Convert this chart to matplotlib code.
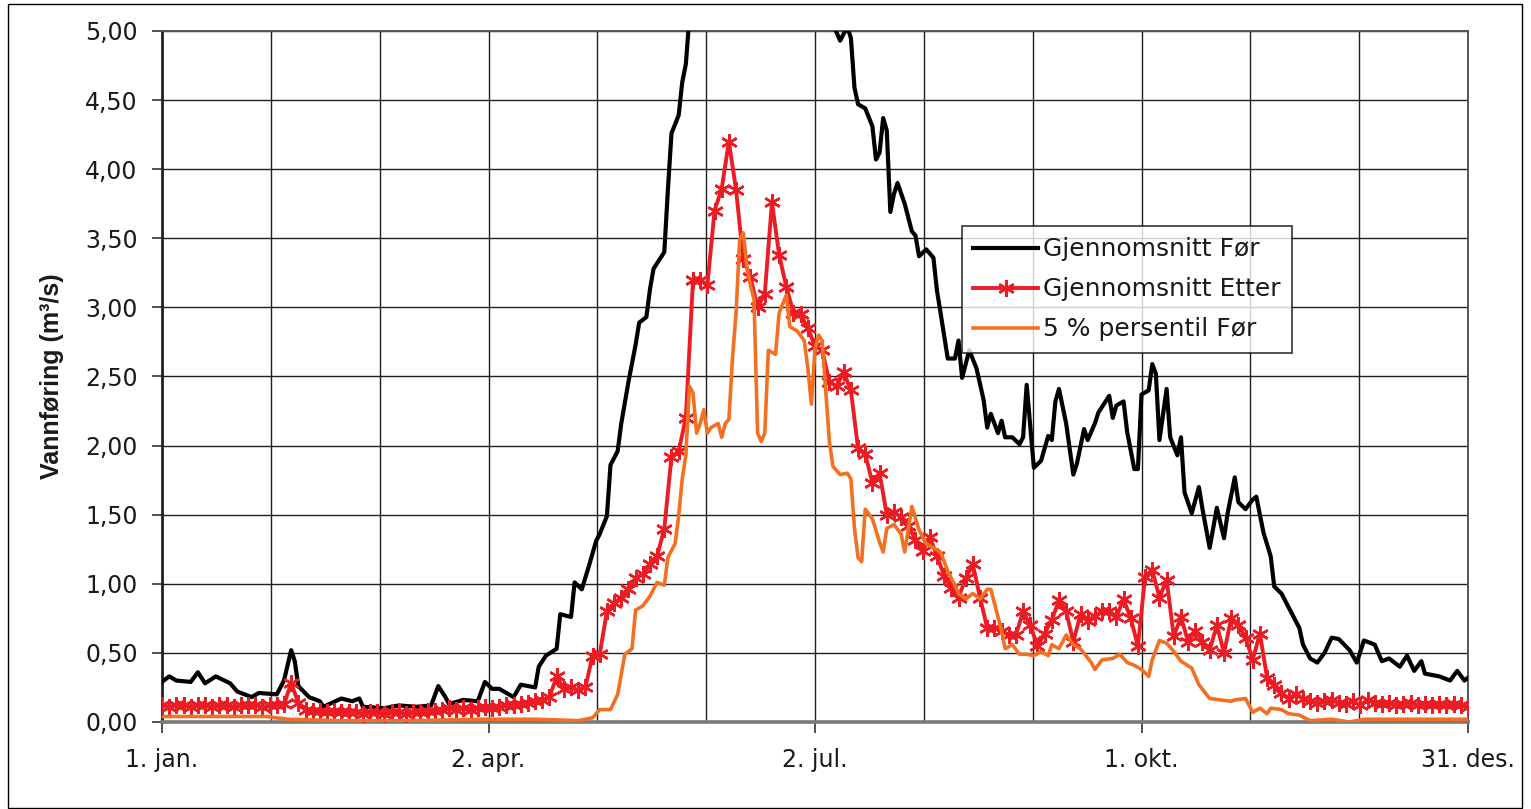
#Librairies
import numpy as np
import matplotlib
matplotlib.use('Agg')
import matplotlib.pyplot as plt
from matplotlib import font_manager
from matplotlib.ticker import FixedLocator, FuncFormatter, NullFormatter
from matplotlib.patches import Rectangle

############
### Data ###
############

#Gjennomsnitt Før (m3/s), read at irregular days of the year
black_days = [1, 3, 5, 9, 11, 13, 16, 20, 22, 26, 28, 33, 35, 37, 38, 39, 42, 45, 46, 51,
              54, 56, 57, 63, 67, 72, 76, 78, 80, 81, 85, 89, 91, 93, 95, 99, 101, 105, 106, 108,
              111, 112, 115, 116, 118, 120, 122, 123, 125, 126, 128, 129, 131, 133, 134, 136, 137, 138, 140, 141,
              142, 143, 145, 146, 147, 148, 150, 155, 160, 165, 170, 175, 180, 185, 188, 190, 192, 193, 194, 195,
              197, 199, 200, 201, 202, 203, 204, 205, 206, 208, 210, 211, 212, 214, 216, 217, 218, 220, 222, 223,
              224, 226, 228, 230, 231, 232, 234, 235, 236, 238, 240, 241, 242, 243, 244, 246, 248, 249, 250, 251,
              253, 255, 256, 258, 259, 261, 262, 265, 266, 267, 269, 270, 272, 273, 274, 276, 277, 278, 279, 281,
              282, 284, 285, 286, 288, 290, 291, 293, 295, 297, 298, 300, 301, 303, 305, 306, 308, 310, 311, 313,
              315, 318, 319, 321, 323, 325, 327, 329, 332, 334, 336, 339, 341, 343, 346, 348, 350, 352, 353, 357,
              360, 362, 364, 365]
black_flow = [0.29, 0.33, 0.30, 0.29, 0.36, 0.28, 0.33, 0.28, 0.22, 0.18, 0.21, 0.20, 0.30, 0.52, 0.44, 0.26, 0.18, 0.15, 0.11, 0.17,
              0.15, 0.17, 0.11, 0.10, 0.12, 0.11, 0.12, 0.26, 0.18, 0.13, 0.16, 0.15, 0.29, 0.24, 0.24, 0.18, 0.27, 0.25, 0.40, 0.48,
              0.53, 0.78, 0.76, 1.01, 0.96, 1.13, 1.31, 1.36, 1.49, 1.86, 1.96, 2.16, 2.46, 2.73, 2.89, 2.93, 3.13, 3.28, 3.36, 3.40,
              3.85, 4.26, 4.39, 4.63, 4.76, 5.10, 5.60, 6.20, 6.60, 6.80, 6.70, 6.40, 6.00, 5.50, 5.05, 4.93, 5.03, 4.95, 4.59, 4.47,
              4.44, 4.31, 4.07, 4.12, 4.37, 4.28, 3.69, 3.82, 3.90, 3.75, 3.55, 3.52, 3.37, 3.42, 3.36, 3.12, 2.96, 2.63, 2.63, 2.76,
              2.49, 2.69, 2.56, 2.33, 2.13, 2.23, 2.09, 2.18, 2.06, 2.06, 2.01, 2.06, 2.44, 2.14, 1.84, 1.89, 2.07, 2.04, 2.32, 2.41,
              2.16, 1.79, 1.87, 2.12, 2.04, 2.16, 2.24, 2.36, 2.20, 2.29, 2.32, 2.10, 1.83, 1.83, 2.37, 2.40, 2.59, 2.52, 2.04, 2.41,
              2.06, 1.93, 2.06, 1.66, 1.51, 1.70, 1.54, 1.26, 1.55, 1.33, 1.51, 1.77, 1.59, 1.54, 1.61, 1.63, 1.37, 1.20, 0.98, 0.93,
              0.83, 0.68, 0.56, 0.46, 0.43, 0.50, 0.61, 0.60, 0.52, 0.43, 0.59, 0.56, 0.44, 0.46, 0.40, 0.48, 0.37, 0.44, 0.35, 0.33,
              0.30, 0.37, 0.30, 0.32]

#Gjennomsnitt Etter (m3/s), every second day from 1. jan.
red_flow = [0.12, 0.11, 0.12, 0.12, 0.11, 0.12, 0.12, 0.11, 0.12, 0.12,
            0.11, 0.12, 0.12, 0.12, 0.11, 0.12, 0.12, 0.13, 0.28, 0.14,
            0.09, 0.08, 0.08, 0.07, 0.08, 0.07, 0.07, 0.07, 0.06, 0.07,
            0.07, 0.06, 0.07, 0.07, 0.06, 0.07, 0.07, 0.08, 0.08, 0.09,
            0.10, 0.09, 0.10, 0.09, 0.10, 0.11, 0.10, 0.11, 0.12, 0.12,
            0.13, 0.14, 0.15, 0.16, 0.18, 0.33, 0.24, 0.25, 0.23, 0.25,
            0.48, 0.49, 0.80, 0.86, 0.90, 0.96, 1.04, 1.07, 1.14, 1.20,
            1.40, 1.92, 1.96, 2.20, 3.20, 3.20, 3.16, 3.70, 3.86, 4.20,
            3.85, 3.35, 3.22, 3.00, 3.10, 3.76, 3.38, 3.15, 2.96, 2.95,
            2.85, 2.72, 2.69, 2.46, 2.43, 2.53, 2.40, 1.98, 1.94, 1.73,
            1.80, 1.50, 1.52, 1.48, 1.42, 1.32, 1.24, 1.34, 1.20, 1.06,
            0.97, 0.90, 1.04, 1.14, 0.90, 0.68, 0.68, 0.66, 0.63, 0.63,
            0.80, 0.70, 0.55, 0.64, 0.74, 0.88, 0.80, 0.58, 0.78, 0.73,
            0.77, 0.80, 0.80, 0.76, 0.89, 0.75, 0.55, 1.05, 1.10, 0.90,
            1.03, 0.62, 0.76, 0.58, 0.66, 0.58, 0.52, 0.70, 0.50, 0.75,
            0.70, 0.61, 0.45, 0.64, 0.32, 0.27, 0.21, 0.17, 0.20, 0.17,
            0.15, 0.14, 0.15, 0.16, 0.14, 0.13, 0.15, 0.12, 0.16, 0.14,
            0.13, 0.14, 0.12, 0.13, 0.14, 0.12, 0.13, 0.12, 0.13, 0.12,
            0.13, 0.12, 0.11]
red_days = np.arange(1, 366, 2)

#5 % persentil Før (m3/s)
orange_days = [1, 30, 33, 36, 50, 70, 90, 105, 117, 121, 123, 126, 128, 130, 132, 133, 135, 137, 139, 141,
               142, 144, 145, 146, 147, 148, 149, 150, 151, 152, 153, 154, 156, 157, 158, 159, 160, 161, 162, 163,
               164, 165, 166, 167, 168, 169, 170, 172, 173, 175, 176, 178, 180, 181, 182, 183, 184, 185, 186, 187,
               188, 190, 192, 193, 194, 195, 196, 197, 199, 201, 202, 203, 205, 207, 208, 210, 212, 214, 216, 218,
               220, 222, 223, 225, 227, 229, 231, 232, 234, 235, 236, 238, 240, 242, 244, 246, 248, 249, 251, 253,
               255, 257, 260, 261, 263, 266, 268, 270, 272, 274, 276, 277, 279, 281, 283, 285, 288, 290, 293, 296,
               299, 300, 303, 305, 307, 309, 310, 313, 315, 318, 321, 327, 332, 336, 365]
orange_flow = [0.04, 0.04, 0.03, 0.02, 0.01, 0.01, 0.02, 0.02, 0.01, 0.03, 0.09, 0.09, 0.20, 0.49, 0.53, 0.81, 0.84, 0.91, 1.01, 0.99,
               1.19, 1.29, 1.49, 1.76, 1.93, 2.43, 2.38, 2.09, 2.16, 2.26, 2.09, 2.13, 2.16, 2.06, 2.16, 2.19, 2.63, 2.96, 3.49, 3.54,
               3.30, 3.16, 3.06, 2.09, 2.03, 2.09, 2.69, 2.66, 2.96, 3.09, 2.86, 2.83, 2.76, 2.56, 2.30, 2.70, 2.80, 2.76, 2.40, 2.03,
               1.85, 1.79, 1.80, 1.76, 1.40, 1.19, 1.16, 1.54, 1.47, 1.30, 1.23, 1.40, 1.43, 1.36, 1.23, 1.56, 1.39, 1.29, 1.26, 1.23,
               1.09, 0.99, 0.93, 0.89, 0.93, 0.89, 0.96, 0.96, 0.76, 0.66, 0.53, 0.56, 0.49, 0.49, 0.48, 0.51, 0.48, 0.56, 0.53, 0.63,
               0.56, 0.53, 0.43, 0.38, 0.45, 0.46, 0.49, 0.43, 0.41, 0.38, 0.33, 0.45, 0.59, 0.57, 0.51, 0.44, 0.39, 0.27, 0.17, 0.16,
               0.15, 0.16, 0.17, 0.07, 0.10, 0.06, 0.10, 0.09, 0.06, 0.05, 0.01, 0.02, 0.00, 0.02, 0.02]

#Axis ticks
month_ticks = [1, 92, 183, 274, 365]
month_labels = ['1. jan.', '2. apr.', '2. jul.', '1. okt.', '31. des.']
y_ticks = np.arange(0, 5.01, 0.5)

#############
### Fonts ###
#############

def have_font(name):
    try:
        font_manager.findfont(font_manager.FontProperties(family=name), fallback_to_default=False)
        return True
    except ValueError:
        return False

txt_font = 'DejaVu Sans'
if have_font('Liberation Sans Narrow'):
    lab_font, lab_size = 'Liberation Sans Narrow', 20
else:
    lab_font, lab_size = 'Liberation Sans', 18

plt.rcParams['font.family'] = [txt_font]

#############
### Graph ###
#############

fig = plt.figure(figsize=(15.31, 8.09), dpi=100)
ax = fig.add_axes([162/1531, 1-722/809, 1306/1531, 691/809])

l1, = ax.plot(black_days, black_flow, color='black', lw=3.0, zorder=3, label='Gjennomsnitt Før')
l2, = ax.plot(red_days, red_flow, color='#ED1C24', lw=2.8, marker=(6, 2, 0), ms=12, mew=1.8,
              zorder=4, label='Gjennomsnitt Etter')
l3, = ax.plot(orange_days, orange_flow, color='#F37021', lw=2.6, zorder=5, label='5 % persentil Før')

#Axis limits
ax.set_xlim(1, 365)
ax.set_ylim(0, 5)

#Ticks and grid
ax.xaxis.set_major_locator(FixedLocator(month_ticks))
ax.set_xticklabels(month_labels)
ax.xaxis.set_minor_locator(FixedLocator([1 + k*364/12 for k in range(13) if k % 3]))
ax.xaxis.set_minor_formatter(NullFormatter())
ax.yaxis.set_major_locator(FixedLocator(y_ticks))
ax.yaxis.set_major_formatter(FuncFormatter(lambda v, p: ('%.2f' % v).replace('.', ',')))
ax.tick_params(axis='x', which='major', direction='out', length=8, width=1.2, pad=11, labelsize=17,
               colors='#333333', labelcolor='#1a1a1a')
ax.tick_params(axis='x', which='minor', length=0)
ax.tick_params(axis='y', direction='out', length=7, width=1.2, pad=10.5, labelsize=17,
               colors='#333333', labelcolor='#1a1a1a')
ax.grid(True, which='both', color='#1f1f1f', lw=1.0, zorder=0)
ax.set_axisbelow(True)

for side in ['top', 'right']:
    ax.spines[side].set_color('#555555')
    ax.spines[side].set_linewidth(1.4)
ax.spines['left'].set_color('#222222')
ax.spines['left'].set_linewidth(2.0)
ax.spines['bottom'].set_color('#7a7a7a')
ax.spines['bottom'].set_linewidth(2.6)

#Axis label
ax.set_ylabel('Vannføring (m³/s)', family=lab_font, fontweight='bold', fontsize=lab_size, color='#1a1a1a')
ax.yaxis.set_label_coords((64-162)/1306, 0.5)

#Legend
leg = ax.legend(handles=[l1, l2, l3], loc='upper left', bbox_to_anchor=((962-162)/1306, (722-226)/691),
                fontsize=18, frameon=True, fancybox=False, handlelength=2.6, handletextpad=0.2,
                borderpad=0.45, labelspacing=0.64, borderaxespad=0)
leg.get_frame().set_edgecolor('black')
leg.get_frame().set_linewidth(1.2)
for t in leg.get_texts():
    t.set_color('#1a1a1a')

#Outer frame of the figure
fig.add_artist(Rectangle((8/1531, 1/809), 1514/1531, 804/809, transform=fig.transFigure,
                         fill=False, ec='black', lw=1.0))

fig.savefig('out.png', dpi=100)
